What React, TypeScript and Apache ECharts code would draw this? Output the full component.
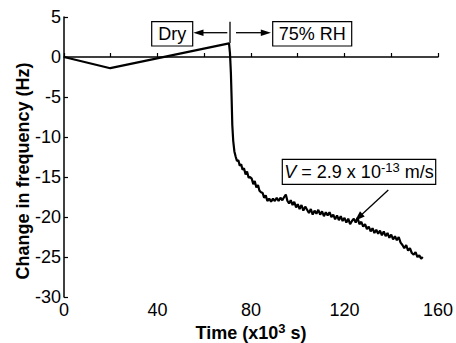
import React, { useEffect, useRef } from "react";
import * as echarts from "echarts";

const timeValues = [
  0, 19.8, 70.6, 71.0, 71.4, 71.7, 72.0, 72.4, 72.9, 73.4, 74.0, 74.6, 75.2, 75.8, 76.4, 77.0, 77.7, 78.3, 79.0, 79.6,
  80.3, 81.0, 81.6, 82.3, 83.0, 83.6, 84.3, 85.0, 85.6, 86.3, 87.0, 87.8, 88.6, 89.4, 90.2, 91.0, 91.8, 92.6, 93.4, 94.2,
  94.9, 95.6, 96.3, 97.0, 97.8, 98.5, 99.3, 100.0, 100.8, 101.6, 102.4, 103.2, 104.0, 104.8, 105.6, 106.4, 107.2, 108.0,
  108.8, 109.6, 110.4, 111.2, 112.0, 112.8, 113.6, 114.4, 115.2, 116.0, 116.8, 117.6, 118.4, 119.2, 120.0, 120.8, 121.6,
  122.4, 123.2, 124.0, 124.8, 125.6, 126.4, 127.2, 128.0, 128.8, 129.6, 130.4, 131.2, 132.0, 132.8, 133.6, 134.4, 135.2,
  136.0, 136.8, 137.6, 138.4, 139.2, 140.0, 140.8, 141.6, 142.4, 143.2, 144.0, 144.8, 145.6, 146.4, 147.2, 148.0, 148.8,
  149.6, 150.4, 151.2, 152.0, 152.8, 153.5,
];

const freqValues = [
  0, -1.4, 1.7, 0.5, -2, -5, -8.5, -10.5, -11.8, -12.4, -13.0, -12.9, -13.6, -13.4, -14.1, -13.9, -14.7, -14.3, -15.1, -15.0,
  -15.2, -15.9, -15.5, -16.3, -16.0, -16.7, -16.9, -17.0, -17.6, -17.3, -18.0, -17.7, -18.1, -17.7, -18.0, -17.6, -18.0, -17.6, -17.9, -17.5,
  -17.2, -18.0, -18.3, -17.9, -18.5, -18.1, -18.8, -18.4, -19.0, -18.5, -19.2, -18.7, -19.1, -19.5, -19.0, -19.7, -19.2, -19.6,
  -19.1, -19.7, -19.3, -19.9, -19.4, -19.8, -19.4, -20.0, -19.7, -20.3, -19.8, -20.4, -19.9, -20.5, -20.1, -20.7, -20.2,
  -20.9, -20.5, -20.2, -20.7, -20.1, -20.9, -20.6, -21.2, -20.9, -21.5, -21.2, -21.8, -21.4, -22.0, -21.6, -22.1, -21.7,
  -22.3, -21.8, -22.4, -22.0, -22.6, -22.2, -22.8, -22.4, -22.9, -22.5, -23.2, -23.5, -23.9, -23.5, -24.2, -23.9, -24.5,
  -24.7, -24.4, -25.0, -24.8, -25.2, -25.0,
];

const xTicks = { min: 0, max: 160, interval: 40 };
const yTicks = { min: -30, max: 5, interval: 5 };

const xAxisTitle = "Time (x10";
const yAxisTitle = "Change in frequency (Hz)";
const dryLabel = "Dry";
const humidLabel = "75% RH";

const FONT = '"Liberation Sans", Arial, Helvetica, sans-serif';

export default function App() {
  const ref = useRef<HTMLDivElement>(null);

  useEffect(() => {
    if (!ref.current) return;
    const chart = echarts.init(ref.current, null, { renderer: "svg" });
    const data = timeValues.map((t, i) => [t, freqValues[i]]);

    const arrowLine = (x1: number, y1: number, x2: number, y2: number) => ({
      type: "line",
      shape: { x1, y1, x2, y2 },
      style: { stroke: "#000", lineWidth: 1.3 },
    });
    const head = (pts: number[][]) => ({
      type: "polygon",
      shape: { points: pts },
      style: { fill: "#000" },
    });
    const box = (x: number, y: number, w: number, h: number) => ({
      type: "rect",
      shape: { x, y, width: w, height: h },
      style: { fill: "#fff", stroke: "#000", lineWidth: 1.2 },
    });
    const label = (text: string, x: number, y: number) => ({
      type: "text",
      style: {
        text,
        x,
        y,
        fontSize: 18,
        fontFamily: FONT,
        fill: "#000",
        align: "center",
        verticalAlign: "middle",
        textAlign: "center",
        textVerticalAlign: "middle",
      },
    });

    chart.setOption({
      animation: false,
      backgroundColor: "#fff",
      grid: { left: 64, right: 16, top: 17, bottom: 46, containLabel: false },
      xAxis: {
        type: "value",
        min: xTicks.min,
        max: xTicks.max,
        interval: xTicks.interval,
        axisLine: { show: true, lineStyle: { color: "#000", width: 1.5 } },
        axisTick: { show: true, inside: true, length: 4, lineStyle: { color: "#000", width: 1.2 } },
        minorTick: { show: true, splitNumber: 2, length: 4, lineStyle: { color: "#000", width: 1.2 } },
        splitLine: { show: false },
        axisLabel: { color: "#000", fontSize: 18, fontFamily: FONT, margin: 4 },
      },
      yAxis: {
        type: "value",
        min: yTicks.min,
        max: yTicks.max,
        interval: yTicks.interval,
        axisLine: { show: true, lineStyle: { color: "#000", width: 1.5 } },
        axisTick: { show: true, inside: true, length: 4, lineStyle: { color: "#000", width: 1.2 } },
        splitLine: { show: false },
        axisLabel: { color: "#000", fontSize: 18, fontFamily: FONT, margin: 3 },
      },
      series: [
        {
          type: "line",
          data,
          showSymbol: false,
          symbol: "none",
          lineStyle: { color: "#000", width: 2.2 },
        },
      ],
      graphic: [
        {
          type: "text",
          x: 23,
          y: 171,
          rotation: Math.PI / 2,
          style: {
            text: yAxisTitle,
            fontSize: 18,
            fontWeight: "bold",
            fontFamily: FONT,
            fill: "#000",
            align: "center",
            verticalAlign: "middle",
            textAlign: "center",
            textVerticalAlign: "middle",
          },
        },
        {
          type: "text",
          x: 251,
          y: 333,
          style: {
            text: "{t|" + xAxisTitle + "}{s|3}{t| s)}",
            fill: "#000",
            align: "center",
            verticalAlign: "middle",
            textAlign: "center",
            textVerticalAlign: "middle",
            rich: {
              t: { fontSize: 18, fontWeight: "bold", fontFamily: FONT, lineHeight: 22 },
              s: { fontSize: 13, fontWeight: "bold", fontFamily: FONT, verticalAlign: "top", lineHeight: 13 },
            },
          },
        },
        // vertical marker
        { type: "line", shape: { x1: 230, y1: 21.7, x2: 230, y2: 43 }, style: { stroke: "#000", lineWidth: 1.3 } },
        // Dry
        box(151.7, 21.7, 41, 24.3),
        label(dryLabel, 172.2, 34),
        arrowLine(227.3, 32.7, 201, 32.7),
        head([[193.3, 32.7], [203.5, 29.5], [203.5, 35.9]]),
        // 75% RH
        arrowLine(236, 32.7, 262, 32.7),
        head([[271, 32.7], [260.8, 29.5], [260.8, 35.9]]),
        box(272.7, 21.7, 79, 24.3),
        label(humidLabel, 312.2, 34),
        // V annotation
        box(282.3, 159.3, 153.4, 25),
        {
          type: "text",
          style: {
            text: "{v|V}{n| = 2.9 x 10}{s|-13}{n| m/s}",
            x: 359,
            y: 172,
            fill: "#000",
            align: "center",
            verticalAlign: "middle",
            textAlign: "center",
            textVerticalAlign: "middle",
            rich: {
              v: { fontSize: 18, fontStyle: "italic", fontFamily: FONT, lineHeight: 22 },
              n: { fontSize: 18, fontFamily: FONT, lineHeight: 22 },
              s: { fontSize: 13, fontFamily: FONT, verticalAlign: "top", lineHeight: 13 },
            },
          },
        },
        arrowLine(388.3, 190, 361, 215.2),
        head([[355, 220.7], [364.7, 216.5], [360.0, 211.3]]),
      ],
    });

    return () => chart.dispose();
  }, []);

  return (
    <div
      ref={ref}
      style={{ position: "fixed", left: 0, top: 0, width: 456, height: 343, background: "#fff" }}
    />
  );
}
